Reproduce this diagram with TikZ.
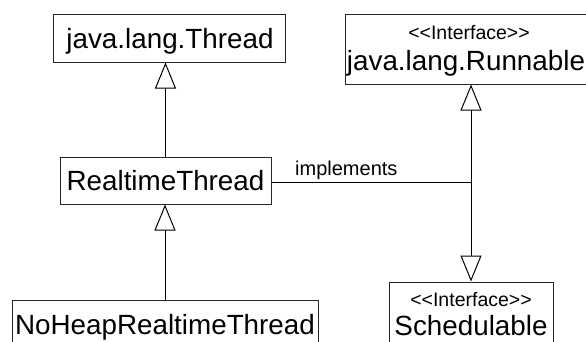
\documentclass[tikz,border=0pt]{standalone}
\usepackage{fontspec}
\setmainfont{Liberation Sans}
\usetikzlibrary{arrows.meta}
\newcommand{\stereo}[1]{<\kern0pt<#1>\kern0pt>}
\tikzset{
  classbox/.style={draw=black!85, line width=1pt, rectangle, inner sep=0pt, fill=white},
  nametext/.style={inner sep=0pt, anchor=base, font=\fontsize{27.8}{30}\selectfont},
  stereotext/.style={inner sep=0pt, anchor=base, font=\fontsize{19.5}{22}\selectfont},
  labeltext/.style={inner sep=0pt, anchor=base west, font=\fontsize{20}{22}\selectfont},
  gentip/.tip={Triangle[open, length=26pt, width=21pt, line width=1pt]},
  link/.style={draw=black, line width=1pt},
}
\begin{document}
\begin{tikzpicture}[x=1pt, y=-1pt]
\clip (0,0) rectangle (586,341);
\fill[white] (0,0) rectangle (586,341);
% class boxes
\node[classbox, minimum width=232pt, minimum height=47.5pt] (thread) at (169,38.25) {};
\node[classbox, minimum width=211pt, minimum height=47pt] (rt) at (165.5,180.5) {};
\node[classbox, minimum width=306pt, minimum height=47pt] (noheap) at (165,323.5) {};
\node[classbox, minimum width=253pt, minimum height=70pt] (runnable) at (471.5,49) {};
\node[classbox, minimum width=164pt, minimum height=70pt] (sched) at (471,317) {};
% texts
\node[nametext] (threadT) at (170,48.5) {java.lang.Thread};
\node[nametext] (rtT) at (165.5,190.5) {RealtimeThread};
\node[nametext] (noheapT) at (165,334) {NoHeapRealtimeThread};
\node[stereotext] (runnableS) at (469,39) {\stereo{Interface}};
\node[nametext] (runnableT) at (466,70) {java.lang.Runnable};
\node[stereotext] (schedS) at (471,306) {\stereo{Interface}};
\node[nametext] (schedT) at (471,335.5) {Schedulable};
% connectors
\draw[link, -{gentip}] (rt.north) -- (rt.north |- thread.south);
\draw[link, -{gentip}] (noheap.north) -- (noheap.north |- rt.south);
\draw[link, {gentip}-{gentip}] (runnable.south -| sched.north) -- (sched.north);
\coordinate (j) at (471,182);
\draw[link] (rt.east |- j) -- (j);
\node[labeltext] (impl) at (295,175) {implements};
\end{tikzpicture}
\end{document}
